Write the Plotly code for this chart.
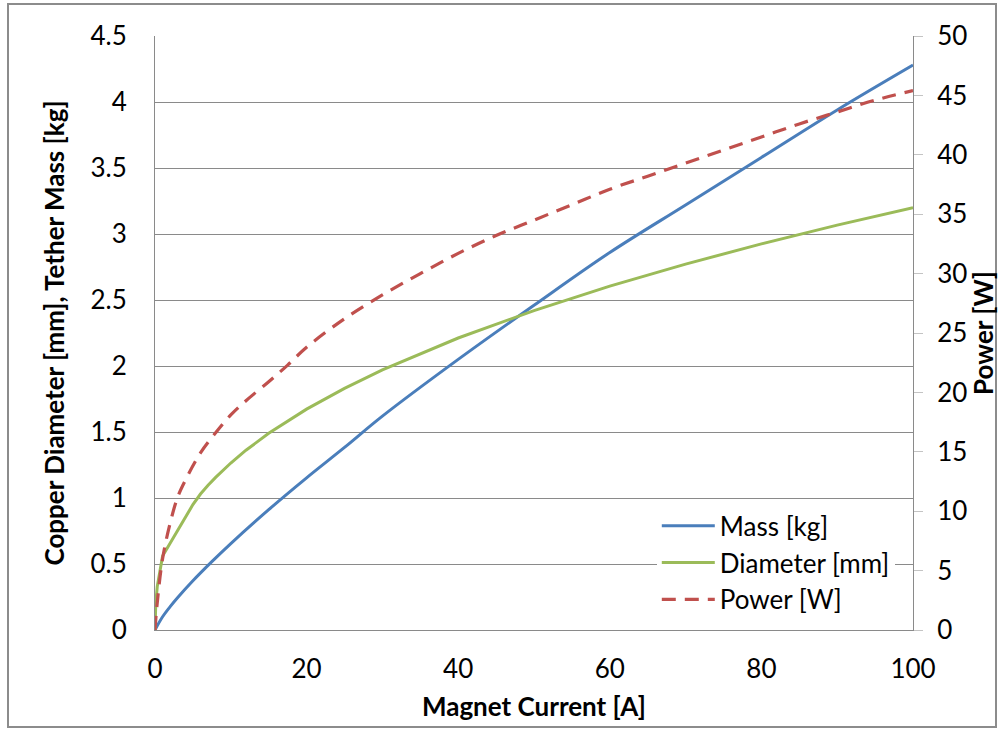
import plotly.graph_objects as go

# Magnet current [A]
mass_x = [0, 1, 2, 3, 5, 7.5, 10, 15, 20, 25, 30, 40, 50, 60, 70, 80, 90, 100]
mass_kg = [0, 0.10, 0.177, 0.246, 0.373, 0.518, 0.655, 0.912, 1.153, 1.383, 1.62, 2.05, 2.46, 2.86, 3.22, 3.58, 3.94, 4.28]

diam_x = [0, 0.1, 0.3, 1, 5, 6, 7, 8, 10, 12, 15, 20, 25, 30, 40, 50, 60, 70, 80, 90, 100]
diam_mm = [0, 0.2, 0.33, 0.56, 0.95, 1.03, 1.096, 1.156, 1.265, 1.362, 1.49, 1.673, 1.83, 1.97, 2.212, 2.42, 2.605, 2.772, 2.925, 3.067, 3.2]

power_x = [0, 0.25, 1, 2, 3, 4, 6, 8, 10, 12, 15, 17.5, 20, 25, 30, 35, 40, 45, 50, 55, 60, 65, 70, 75, 80, 85, 90, 95, 100]
power_w = [0, 2.0, 6.0, 9.0, 11.2, 12.6, 14.9, 16.6, 18.1, 19.3, 20.9, 22.3, 23.8, 26.2, 28.2, 30.0, 31.7, 33.2, 34.5, 35.8, 37.1, 38.2, 39.3, 40.4, 41.5, 42.6, 43.6, 44.6, 45.4]

x_ticks = [0, 20, 40, 60, 80, 100]
left_ticks = [0, 0.5, 1, 1.5, 2, 2.5, 3, 3.5, 4, 4.5]
right_ticks = [0, 5, 10, 15, 20, 25, 30, 35, 40, 45, 50]

FONT = "Lato"
GRID = "#8a8a8a"
FS = 26

fig = go.Figure()
fig.add_trace(go.Scatter(x=mass_x, y=mass_kg, mode="lines", name="Mass [kg]",
                         line=dict(color="#4A7EBB", width=3), line_shape="spline"))
fig.add_trace(go.Scatter(x=diam_x, y=diam_mm, mode="lines", name="Diameter [mm]",
                         line=dict(color="#9BBB59", width=3)))
fig.add_trace(go.Scatter(x=power_x, y=power_w, mode="lines", name="Power [W]", yaxis="y2",
                         line=dict(color="#C0504D", width=3.2, dash="14px,9px"), line_shape="spline"))

fig.update_layout(
    width=1001, height=729,
    margin=dict(l=155, r=88, t=36, b=99, autoexpand=False),
    paper_bgcolor="white", plot_bgcolor="white",
    font=dict(family=FONT, size=FS, color="#000000"),
    xaxis=dict(range=[0, 100], tickvals=x_ticks, showgrid=False, zeroline=False,
               showline=True, linecolor=GRID, linewidth=1, ticks="", automargin=True,
               ticklabelstandoff=16,
               title=dict(text="<b>Magnet Current [A]</b>", font=dict(size=FS), standoff=14)),
    yaxis=dict(range=[0, 4.5], tickvals=left_ticks, showgrid=True, gridcolor=GRID, gridwidth=1,
               zeroline=False, showline=True, linecolor=GRID, linewidth=1, ticks="", automargin=True,
               ticklabelstandoff=22,
               title=dict(text="<b>Copper Diameter [mm], Tether Mass [kg]</b>", font=dict(size=FS), standoff=18)),
    yaxis2=dict(range=[0, 50], tickvals=right_ticks, overlaying="y", side="right", showgrid=False,
                zeroline=False, showline=True, linecolor=GRID, linewidth=1, automargin=True,
                ticks="outside", ticklen=9, tickcolor="#c4c4c4", ticklabelstandoff=9,
                title=dict(text="<b>Power [W]</b>", font=dict(size=FS), standoff=8)),
    legend=dict(x=0.662, y=0.215, xanchor="left", yanchor="top", bgcolor="white",
                font=dict(size=FS), itemwidth=53, tracegroupgap=0, traceorder="normal"),
    showlegend=True,
)

fig.add_shape(type="rect", xref="paper", yref="paper",
              x0=(8 - 155) / 758, x1=(996 - 155) / 758,
              y0=(630 - 727) / 594, y1=(630 - 4) / 594,
              line=dict(color="#8c8c8c", width=2), fillcolor="rgba(0,0,0,0)", layer="below")

fig.write_html("out.html", config={"displayModeBar": False},
               post_script="document.body.style.margin='0px';")
